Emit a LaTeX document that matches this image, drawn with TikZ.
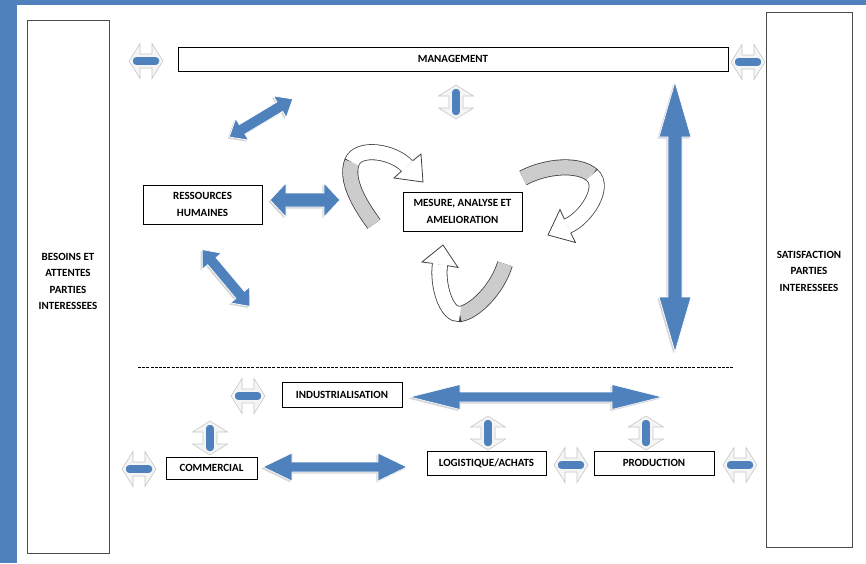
\documentclass[tikz,border=0pt]{standalone}
\usepackage{fontspec}
\setmainfont{Carlito}
\definecolor{frameblue}{RGB}{79,129,189}
\definecolor{arrowblue}{RGB}{79,129,189}
\definecolor{bevel}{RGB}{214,214,214}
\newcommand{\lbl}{\bfseries\fontsize{11}{16.5}\selectfont}
\newcommand{\arrowpath}[4]{(-#1,0) -- ({-#1+#4},#3) -- ({-#1+#4},#2) -- ({#1-#4},#2) -- ({#1-#4},#3) -- (#1,0) -- ({#1-#4},-#3) -- ({#1-#4},-#2) -- ({-#1+#4},-#2) -- ({-#1+#4},-#3) -- cycle}
\newcommand{\blockarrow}[6]{%
	\begin{scope}[shift={#1}, shift={(-1.6,1.6)}, rotate=#2]
	\fill[bevel] \arrowpath{#3}{#4}{#5}{#6};
	\end{scope}
	\begin{scope}[shift={#1}, rotate=#2]
	\filldraw[fill=arrowblue, draw=white, line width=0.7pt] \arrowpath{#3}{#4}{#5}{#6};
	\end{scope}}
\newcommand{\stubarrow}[2]{%
	\begin{scope}[shift={#1}, rotate=#2]
	\filldraw[fill=gray!8, draw=gray!45, line width=0.6pt] (-17,0) -- (-6,17.5) -- (-6,7) -- (6,7) -- (6,17.5) -- (17,0) -- (6,-17.5) -- (6,-7) -- (-6,-7) -- (-6,-17.5) -- cycle;
	\fill[arrowblue, rounded corners=3pt] (-13,-3.8) rectangle (13,3.8);
	\end{scope}}
\tikzset{
	box/.style={draw, line width=0.8pt, align=center, font=\lbl, inner sep=0pt},
	sidebox/.style={draw=black!70, line width=1pt, align=center, font=\lbl, inner sep=0pt},
	ribbonout/.style={line width=16pt, draw=black!75},
	ribbongray/.style={line width=14.4pt, draw=gray!40},
	ribbonwhite/.style={line width=14.4pt, draw=white},
	headw/.style={fill=white, draw=black!75, line width=0.8pt, line join=miter}
}
\begin{document}
\begin{tikzpicture}[x=1pt, y=-1pt]
		\useasboundingbox (0,0) rectangle (866,563);
		\fill[frameblue] (0,0) rectangle (17,563);
		\fill[frameblue] (0,0) rectangle (866,5);
		\node[sidebox, minimum width=82, minimum height=533] (besoins) at (68,286.5) {BESOINS ET\\ATTENTES\\PARTIES\\INTERESSEES\\[-6pt]\mbox{}};
		\node[sidebox, minimum width=86, minimum height=535] (satisf) at (809,279.5) {SATISFACTION\\PARTIES\\INTERESSEES\\\mbox{}};
		\node[box, minimum width=550, minimum height=24] (mgmt) at (453,59) {MANAGEMENT};
		\node[box, minimum width=119, minimum height=39] (rh) at (202.5,204.5) {RESSOURCES\\HUMAINES};
		\node[box, minimum width=119, minimum height=39] (mesure) at (462.5,211.5) {MESURE, ANALYSE ET\\AMELIORATION};
		\node[box, minimum width=120, minimum height=25] (indus) at (342,394.5) {INDUSTRIALISATION};
		\node[box, minimum width=91, minimum height=22] (comm) at (211.5,468) {COMMERCIAL};
		\node[box, minimum width=119, minimum height=24] (logi) at (486.5,463) {LOGISTIQUE/ACHATS};
		\node[box, minimum width=120, minimum height=24] (prod) at (654,463) {PRODUCTION};
		\draw[line width=0.5pt, dash pattern=on 3pt off 1.2pt] (138,367) -- (733,367);
		\foreach \x/\y/\a/\l/\s/\w/\h in {261/118/31/37/5.5/12.5/15, 305/200/0/35/7/17/16, 226/278/-50/37/5.5/12.5/15, 675/217/90/135/7/16/55, 536/397/0/126/5/12.5/50, 335/467/0/72/5/14/29}
		{
			\blockarrow{(\x,\y)}{\a}{\l}{\s}{\w}{\h}
		}
		\foreach \x/\y/\a in {146/61/0, 748/62/0, 456/102/90, 248/396/0, 210/438/90, 139/469/0, 488/433/90, 646/433/90, 571/465/0, 740/465/0}
		{
			\stubarrow{(\x,\y)}{\a}
		}
		\draw[ribbonout] (374,224) .. controls (360,205) and (345,180) .. (352,162) .. controls (358,146) and (393,151) .. (407,166);
		\draw[ribbongray] (374,224) .. controls (360,205) and (345,180) .. (352,162);
		\draw[ribbonwhite] (352,162) .. controls (358,146) and (393,151) .. (407,166);
		\filldraw[headw] (412.5,160.9) -- (421,154) -- (423,182) -- (394,178) -- (401.5,171.1);
		\draw[ribbonout] (523,178) .. controls (545,166) and (578,163) .. (592,175) .. controls (606,187) and (586,218) .. (567.5,226);
		\draw[ribbongray] (523,178) .. controls (545,166) and (578,163) .. (592,175);
		\draw[ribbonwhite] (592,175) .. controls (606,187) and (586,218) .. (567.5,226);
		\filldraw[headw] (564.4,219.2) -- (560,209.5) -- (548,235) -- (575.5,242.5) -- (570.7,232.8);
		\draw[ribbonout] (505,264) .. controls (497,290) and (474,312) .. (460,314) .. controls (446,316) and (437,284) .. (440,264.5);
		\draw[ribbongray] (505,264) .. controls (497,290) and (474,312) .. (460,314);
		\draw[ribbonwhite] (460,314) .. controls (446,316) and (437,284) .. (440,264.5);
		\filldraw[headw] (447.4,265.6) -- (458,267.5) -- (443,245) -- (422,262) -- (432.6,263.4);
\end{tikzpicture}
\end{document}
